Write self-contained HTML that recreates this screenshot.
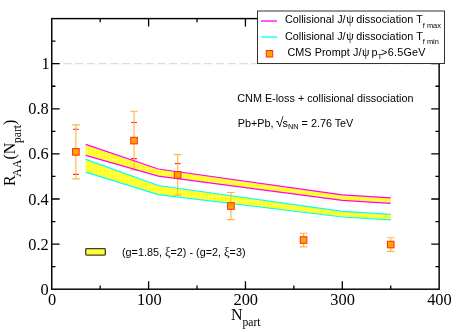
<!DOCTYPE html>
<html><head><meta charset="utf-8"><title>RAA</title>
<style>
html,body{margin:0;padding:0;background:#fff;}
body{width:456px;height:332px;overflow:hidden;font-family:"Liberation Sans",sans-serif;}
svg{display:block;will-change:transform;opacity:0.999}
.se{font-family:"Liberation Serif",serif;fill:#000}
.sa{font-family:"Liberation Sans",sans-serif;fill:#000}
</style></head><body>
<svg width="456" height="332" viewBox="0 0 456 332">
<defs>
<pattern id="dots" width="3.8" height="4.6" patternUnits="userSpaceOnUse"><rect width="3.8" height="4.6" fill="#ffff08"/><rect x="3.0" width="0.8" height="4.6" fill="#ffff68"/><rect x="0" width="0.3" height="4.6" fill="#ffff68"/><rect y="2.7" width="3.8" height="1" fill="#ffff68"/></pattern>
</defs>
<rect width="456" height="332" fill="#fff"/>

<line x1="51.75" y1="63.70" x2="439.15" y2="63.70" stroke="#dcdcdc" stroke-width="1.2" stroke-dasharray="8 3.73"/>
<path d="M73.07 129.32H78.67M73.07 174.42H78.67" stroke="#ff1414" stroke-width="1.1" fill="none"/>
<path d="M131.27 122.56H136.87M131.27 158.64H136.87" stroke="#ff1414" stroke-width="1.1" fill="none"/>
<path d="M174.85 163.60H180.46" stroke="#ff1414" stroke-width="1.1" fill="none"/>
<polygon points="85.65,144.30 158.28,169.00 342.30,194.80 390.73,197.90 390.73,203.40 342.30,200.40 158.28,176.20 85.65,155.40" fill="url(#dots)"/>
<polygon points="85.65,159.30 158.28,185.50 342.30,211.30 390.73,214.30 390.73,219.80 342.30,217.00 158.28,194.60 85.65,172.20" fill="url(#dots)"/>
<path d="M75.87 124.81V178.93M71.97 124.81H79.77M71.97 178.93H79.77" stroke="#ffb648" stroke-width="1.15" fill="none"/>
<path d="M134.07 111.28V169.91M130.17 111.28H137.97M130.17 169.91H137.97" stroke="#ffb648" stroke-width="1.15" fill="none"/>
<path d="M177.66 154.58V195.17M173.75 154.58H181.56M173.75 195.17H181.56" stroke="#ffb648" stroke-width="1.15" fill="none"/>
<path d="M230.92 192.51V219.57M227.02 192.51H234.82M227.02 219.57H234.82" stroke="#ffb648" stroke-width="1.15" fill="none"/>
<path d="M303.56 233.28V246.81M299.66 233.28H307.46M299.66 246.81H307.46" stroke="#ffb648" stroke-width="1.15" fill="none"/>
<path d="M390.73 237.79V251.32M386.83 237.79H394.62M386.83 251.32H394.62" stroke="#ffb648" stroke-width="1.15" fill="none"/>
<polyline points="85.65,144.30 158.28,169.00 342.30,194.80 390.73,197.90" fill="none" stroke="#ff00ff" stroke-width="1.25"/>
<polyline points="85.65,155.40 158.28,176.20 342.30,200.40 390.73,203.40" fill="none" stroke="#ff00ff" stroke-width="1.25"/>
<polyline points="85.65,159.30 158.28,185.50 342.30,211.30 390.73,214.30" fill="none" stroke="#00ffff" stroke-width="1.25"/>
<polyline points="85.65,172.20 158.28,194.60 342.30,217.00 390.73,219.80" fill="none" stroke="#00ffff" stroke-width="1.25"/>
<rect x="72.57" y="148.57" width="6.6" height="6.6" fill="#ffa500" stroke="#ff2814" stroke-width="1"/>
<rect x="130.77" y="137.30" width="6.6" height="6.6" fill="#ffa500" stroke="#ff2814" stroke-width="1"/>
<rect x="174.35" y="171.57" width="6.6" height="6.6" fill="#ffa500" stroke="#ff2814" stroke-width="1"/>
<rect x="227.62" y="202.74" width="6.6" height="6.6" fill="#ffa500" stroke="#ff2814" stroke-width="1"/>
<rect x="300.26" y="236.74" width="6.6" height="6.6" fill="#ffa500" stroke="#ff2814" stroke-width="1"/>
<rect x="387.43" y="241.25" width="6.6" height="6.6" fill="#ffa500" stroke="#ff2814" stroke-width="1"/>
<rect x="51.75" y="18.60" width="387.40" height="270.60" fill="none" stroke="#000" stroke-width="1.45"/>
<path d="M100.17 289.20v-3.70M100.17 18.60v3.70M148.60 289.20v-7.90M148.60 18.60v7.90M197.03 289.20v-3.70M197.03 18.60v3.70M245.45 289.20v-7.90M245.45 18.60v7.90M293.88 289.20v-3.70M293.88 18.60v3.70M342.30 289.20v-7.90M342.30 18.60v7.90M390.73 289.20v-3.70M390.73 18.60v3.70M51.75 266.65h3.70M439.15 266.65h-3.70M51.75 244.10h7.90M439.15 244.10h-7.90M51.75 221.55h3.70M439.15 221.55h-3.70M51.75 199.00h7.90M439.15 199.00h-7.90M51.75 176.45h3.70M439.15 176.45h-3.70M51.75 153.90h7.90M439.15 153.90h-7.90M51.75 131.35h3.70M439.15 131.35h-3.70M51.75 108.80h7.90M439.15 108.80h-7.90M51.75 86.25h3.70M439.15 86.25h-3.70M51.75 63.70h7.90M439.15 63.70h-7.90M51.75 41.15h3.70M439.15 41.15h-3.70" stroke="#000" stroke-width="1.3" fill="none"/>
<text class="se" x="52.05" y="305.4" font-size="16.4" text-anchor="middle">0</text>
<text class="se" x="149.40" y="305.4" font-size="16.4" text-anchor="middle">100</text>
<text class="se" x="245.75" y="305.4" font-size="16.4" text-anchor="middle">200</text>
<text class="se" x="342.60" y="305.4" font-size="16.4" text-anchor="middle">300</text>
<text class="se" x="439.45" y="305.4" font-size="16.4" text-anchor="middle">400</text>
<text class="se" x="48.7" y="294.70" font-size="16.4" text-anchor="end">0</text>
<text class="se" x="48.7" y="249.60" font-size="16.4" text-anchor="end">0.2</text>
<text class="se" x="48.7" y="204.50" font-size="16.4" text-anchor="end">0.4</text>
<text class="se" x="48.7" y="159.40" font-size="16.4" text-anchor="end">0.6</text>
<text class="se" x="48.7" y="114.30" font-size="16.4" text-anchor="end">0.8</text>
<text class="se" x="49.6" y="69.20" font-size="16.4" text-anchor="end">1</text>
<text class="se" x="231" y="319.5" font-size="16">N<tspan font-size="11.6" dy="6.1">part</tspan></text>
<text class="se" transform="translate(15.2,185.9) rotate(-90)" font-size="16">R<tspan font-size="12.1" dy="6" dx="-1.8">AA</tspan><tspan dy="-6">(N</tspan><tspan font-size="11.6" dy="6" dx="-0.35">part</tspan><tspan dy="-6">)</tspan></text>
<text class="sa" x="237.3" y="102.1" font-size="10.8">CNM E-loss + collisional dissociation</text>
<text class="sa" x="237.8" y="127" font-size="10.8">Pb+Pb, <tspan font-size="13.5" dx="-0.5">√</tspan><tspan dx="-0.95">s</tspan><tspan font-size="7.4" dy="2">NN</tspan><tspan dy="-2"> = 2.76 TeV</tspan></text>
<rect x="85.7" y="248.6" width="19.6" height="6.5" rx="0.8" fill="url(#dots)" stroke="#3c3c3c" stroke-width="1.3"/>
<text class="sa" x="122" y="255.8" font-size="10.8">(g=1.85, <tspan font-family="Liberation Serif" font-size="12.6">ξ</tspan>=2) - (g=2, <tspan font-family="Liberation Serif" font-size="12.6">ξ</tspan>=3)</text>
<rect x="257.5" y="11" width="187" height="52.5" fill="#fff" stroke="#333" stroke-width="1"/>
<line x1="261" y1="21" x2="277" y2="21" stroke="#ff00ff" stroke-width="1.3"/>
<line x1="261" y1="37" x2="277" y2="37" stroke="#00ffff" stroke-width="1.3"/>
<rect x="266.3" y="50.5" width="6.4" height="6.5" fill="#ffa500" stroke="#ff2814" stroke-width="1"/>
<text class="sa" x="285" y="23.2" font-size="10.8">Collisional J/<tspan font-family="Liberation Serif" font-size="12" dx="0.6">ψ</tspan><tspan dx="-0.62" letter-spacing="0.06"> dissociation T</tspan><tspan font-size="7.4" dy="4.8">f max</tspan></text>
<text class="sa" x="285" y="39.5" font-size="10.8">Collisional J/<tspan font-family="Liberation Serif" font-size="12" dx="0.6">ψ</tspan><tspan dx="-0.62" letter-spacing="0.06"> dissociation T</tspan><tspan font-size="7.4" dy="4.8">f min</tspan></text>
<text class="sa" x="287.4" y="55.7" font-size="10.8"><tspan letter-spacing="0.07">CMS Prompt J/</tspan><tspan font-family="Liberation Serif" font-size="12" dx="0.6">ψ</tspan><tspan dx="-1.02"> p</tspan><tspan font-size="7.8" dy="3">T</tspan><tspan dy="-3" dx="-1.3" letter-spacing="0.25">&gt;6.5GeV</tspan></text>
</svg></body></html>
